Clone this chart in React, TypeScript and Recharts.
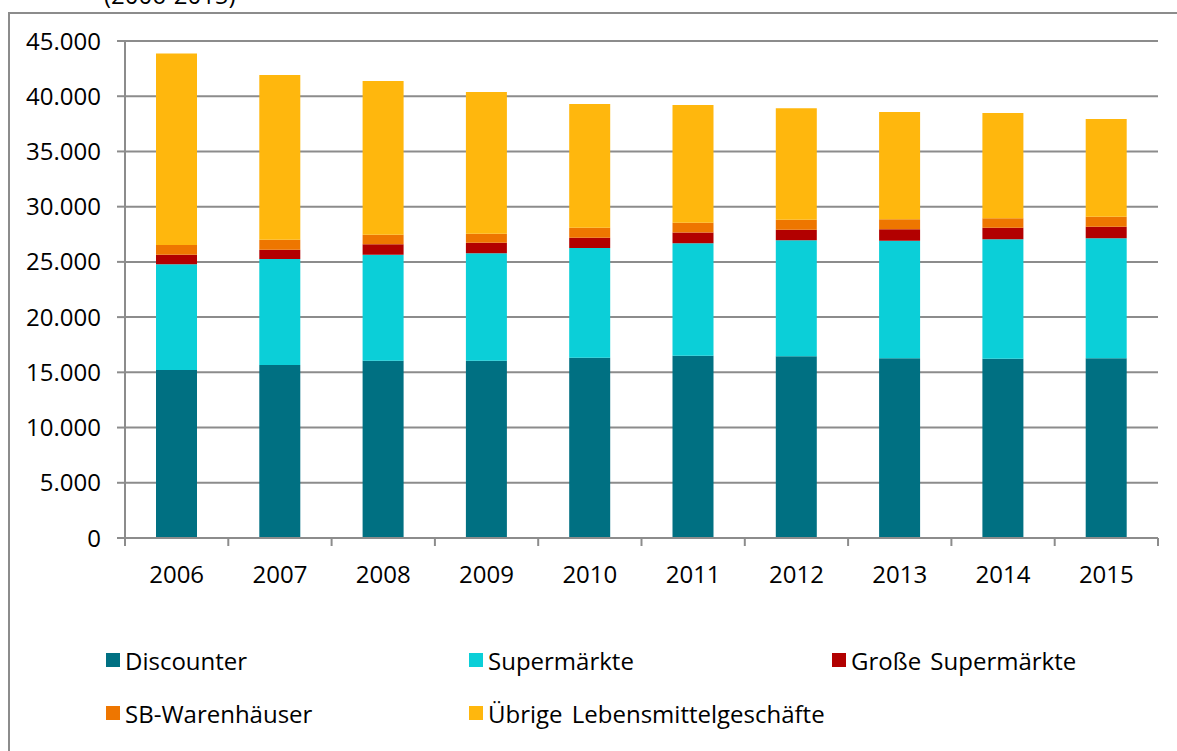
import { BarChart, Bar, XAxis, YAxis, CartesianGrid, Legend } from "recharts";

const YEARS = ["2006", "2007", "2008", "2009", "2010", "2011", "2012", "2013", "2014", "2015"];
const DISCOUNTER = [15200, 15660, 16050, 16050, 16330, 16510, 16450, 16270, 16240, 16270];
const SUPERMAERKTE = [9580, 9600, 9600, 9730, 9930, 10170, 10510, 10650, 10810, 10870];
const GROSSE_SUPERMAERKTE = [870, 840, 940, 960, 930, 970, 960, 1030, 1050, 1050];
const SB_WARENHAEUSER = [880, 910, 870, 810, 910, 900, 900, 910, 850, 900];
const UEBRIGE = [17340, 14910, 13920, 12830, 11200, 10650, 10080, 9710, 9530, 8850];
const Y_TICKS = [0, 5000, 10000, 15000, 20000, 25000, 30000, 35000, 40000, 45000];

const SERIES = [
  { key: "discounter", name: "Discounter", color: "#007082" },
  { key: "supermaerkte", name: "Supermärkte", color: "#0bcfd8" },
  { key: "grosse", name: "Große Supermärkte", color: "#b20000" },
  { key: "sb", name: "SB-Warenhäuser", color: "#ee7600" },
  { key: "uebrige", name: "Übrige Lebensmittelgeschäfte", color: "#ffb70d" },
];

const data = YEARS.map((year, i) => ({
  year,
  discounter: DISCOUNTER[i],
  supermaerkte: SUPERMAERKTE[i],
  grosse: GROSSE_SUPERMAERKTE[i],
  sb: SB_WARENHAEUSER[i],
  uebrige: UEBRIGE[i],
}));

const FONT = "'Open Sans', sans-serif";
const GREY = "#8c8c8c";
const TICK_SIZE = 8;
const TICK_MARGIN = 20;

const fmt = (v: number) => String(v).replace(/\B(?=(\d{3})+(?!\d))/g, ".");

// year label in the middle of the band, tick marks on the band edges
function YearTick(props: any) {
  const { x, y, payload, index, visibleTicksCount } = props;
  const half = payload.offset ?? 0;
  const top = y - TICK_MARGIN - TICK_SIZE;
  const last = index === visibleTicksCount - 1;
  return (
    <g>
      <line x1={x - half} x2={x - half} y1={top} y2={top + TICK_SIZE} stroke={GREY} strokeWidth={2} />
      {last && (
        <line x1={x + half} x2={x + half} y1={top} y2={top + TICK_SIZE} stroke={GREY} strokeWidth={2} />
      )}
      <text x={x} y={y} dy="0.71em" textAnchor="middle" fill="#000" fontSize={24} fontFamily={FONT}>
        {payload.value}
      </text>
    </g>
  );
}

function LegendBox() {
  return (
    <div
      style={{
        height: 120,
        width: 1100,
        boxSizing: "border-box",
        paddingLeft: 106,
        display: "grid",
        gridTemplateColumns: "363px 363px 260px",
        gridAutoRows: "40px",
        rowGap: 13,
        fontFamily: FONT,
        fontSize: 24,
        color: "#000",
        whiteSpace: "nowrap",
      }}
    >
      {SERIES.map((s) => (
        <div key={s.key} style={{ display: "flex", alignItems: "center" }}>
          <span style={{ width: 14, height: 14, background: s.color, marginRight: 5 }} />
          <span style={{ wordSpacing: 3 }}>{s.name}</span>
        </div>
      ))}
    </div>
  );
}

export default function App() {
  return (
    <div style={{ position: "fixed", left: 0, top: 0, width: 1177, height: 751, overflow: "hidden", background: "#fff" }}>
      <style>{"html, body { overflow: hidden; }"}</style>
      {/* frame of the chart area (only its left and top edges are in view) and the cut-off title */}
      <svg style={{ position: "absolute", left: 0, top: 0 }} width={1177} height={751}>
        <polyline points="9,751 9,13 1177,13" fill="none" stroke={GREY} strokeWidth={2} />
        <text x={104} y={4} fontSize={24} fontFamily={FONT} fill="#000">
          (2006-2015)
        </text>
      </svg>
      <div style={{ position: "absolute", left: 0, top: 0 }}>
        <BarChart
          width={1170}
          height={751}
          data={data}
          margin={{ top: 41, right: 12, left: 0, bottom: 43 }}
          style={{ fontFamily: FONT }}
        >
          <CartesianGrid vertical={false} stroke={GREY} strokeWidth={2} />
          <XAxis
            dataKey="year"
            height={50}
            interval={0}
            axisLine={{ stroke: GREY, strokeWidth: 2 }}
            tickLine={{ stroke: "none" }}
            tickSize={TICK_SIZE}
            tickMargin={TICK_MARGIN}
            tick={<YearTick />}
          />
          <YAxis
            width={125}
            domain={[0, 45000]}
            ticks={Y_TICKS}
            interval={0}
            tickFormatter={fmt}
            axisLine={{ stroke: GREY, strokeWidth: 2 }}
            tickLine={{ stroke: GREY, strokeWidth: 2 }}
            tickSize={8}
            tickMargin={16}
            tick={{ fill: "#000", fontSize: 24, fontFamily: FONT }}
          />
          <Legend
            verticalAlign="bottom"
            content={<LegendBox />}
            wrapperStyle={{ left: 0, top: 640, bottom: "auto", width: 1100 }}
          />
          {SERIES.map((s) => (
            <Bar
              key={s.key}
              dataKey={s.key}
              name={s.name}
              stackId="a"
              fill={s.color}
              barSize={41}
              isAnimationActive={false}
            />
          ))}
        </BarChart>
      </div>
    </div>
  );
}
